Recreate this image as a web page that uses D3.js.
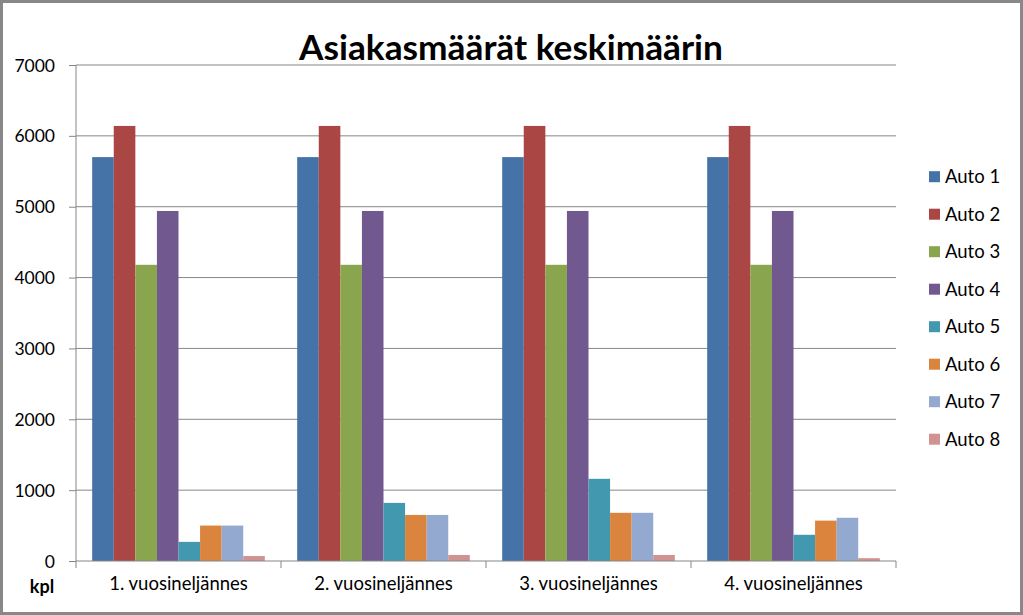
<!DOCTYPE html>
<html>
<head>
<meta charset="utf-8">
<script src="https://cdn.jsdelivr.net/npm/d3@7"></script>
<style>
  body { margin: 0; background: #fff; }
  text { font-family: Lato, "Open Sans", sans-serif; fill: #000; }
</style>
</head>
<body>
<div class="chart"></div>
<script>
const quarters = ['1. vuosineljännes', '2. vuosineljännes', '3. vuosineljännes', '4. vuosineljännes'];
const series = ['Auto 1', 'Auto 2', 'Auto 3', 'Auto 4', 'Auto 5', 'Auto 6', 'Auto 7', 'Auto 8'];
const auto1 = [5700, 5700, 5700, 5700];
const auto2 = [6140, 6140, 6140, 6140];
const auto3 = [4180, 4180, 4180, 4180];
const auto4 = [4940, 4940, 4940, 4940];
const auto5 = [270, 820, 1160, 370];
const auto6 = [500, 650, 680, 570];
const auto7 = [500, 650, 680, 610];
const auto8 = [70, 85, 85, 40];
const yTicks = [0, 1000, 2000, 3000, 4000, 5000, 6000, 7000];
const colors = ['#4572A7', '#AA4643', '#89A54E', '#71588F', '#4198AF', '#DB843D', '#93A9CF', '#D19392'];

function drawChart() {
  const w = 1023;
  const h = 615;
  const plot = { left: 76, right: 896, top: 65, bottom: 561 };
  const values = [auto1, auto2, auto3, auto4, auto5, auto6, auto7, auto8];

  const svg = d3.select('.chart')
    .append('svg')
    .attr('width', w)
    .attr('height', h);

  svg.append('rect')
    .attr('x', 1.5).attr('y', 1.5)
    .attr('width', w - 3).attr('height', h - 3)
    .attr('fill', '#fff')
    .attr('stroke', '#888')
    .attr('stroke-width', 3);

  const x0 = d3.scaleBand()
    .domain(quarters)
    .range([plot.left, plot.right]);
  const x1 = d3.scaleBand()
    .domain(series)
    .range([0, x0.bandwidth()])
    .paddingOuter(0.75);
  const y = d3.scaleLinear()
    .domain([0, 7000])
    .range([plot.bottom, plot.top]);

  // gridlines + y axis
  const yAxis = svg.append('g')
    .attr('class', 'y-axis')
    .attr('transform', `translate(${plot.left}, 0)`)
    .call(d3.axisLeft(y).tickValues(yTicks).tickFormat(d3.format('d')).tickSize(7).tickPadding(14));
  yAxis.select('.domain').remove();
  yAxis.selectAll('.tick line').attr('stroke', '#868686');
  yAxis.selectAll('.tick text').attr('font-size', 17.5).attr('dy', '0.35em');

  svg.append('g')
    .attr('class', 'grid')
    .selectAll('line')
    .data(yTicks.filter((d) => d > 0))
    .join('line')
    .attr('x1', plot.left)
    .attr('x2', plot.right)
    .attr('y1', (d) => y(d))
    .attr('y2', (d) => y(d))
    .attr('stroke', '#868686');

  svg.append('line')
    .attr('x1', plot.left).attr('x2', plot.left)
    .attr('y1', plot.top).attr('y2', plot.bottom)
    .attr('stroke', '#868686');

  // bars
  const rows = quarters.map((q, i) => series.map((s, j) => ({ q, s, v: values[j][i], c: colors[j] })));
  svg.append('g')
    .selectAll('g')
    .data(rows)
    .join('g')
    .attr('transform', (d) => `translate(${x0(d[0].q)}, 0)`)
    .selectAll('rect')
    .data((d) => d)
    .join('rect')
    .attr('x', (d) => x1(d.s))
    .attr('width', x1.bandwidth())
    .attr('y', (d) => y(d.v))
    .attr('height', (d) => y(0) - y(d.v))
    .attr('fill', (d) => d.c);

  // x axis
  const xAxis = svg.append('g')
    .attr('class', 'x-axis')
    .attr('transform', `translate(0, ${plot.bottom})`)
    .call(d3.axisBottom(x0).tickSize(0).tickPadding(16));
  xAxis.select('.domain').remove();
  xAxis.selectAll('.tick text').attr('font-size', 18.5);

  svg.append('line')
    .attr('x1', plot.left).attr('x2', plot.right)
    .attr('y1', plot.bottom).attr('y2', plot.bottom)
    .attr('stroke', '#868686');
  svg.append('g')
    .selectAll('line')
    .data(quarters.concat(['end']))
    .join('line')
    .attr('x1', (d, i) => plot.left + i * x0.step())
    .attr('x2', (d, i) => plot.left + i * x0.step())
    .attr('y1', plot.bottom)
    .attr('y2', plot.bottom + 7)
    .attr('stroke', '#868686');

  svg.append('text')
    .attr('x', 42)
    .attr('y', 593)
    .attr('text-anchor', 'middle')
    .attr('font-size', 18)
    .attr('font-weight', 'bold')
    .text('kpl');

  // title
  const title = svg.append('text')
    .attr('x', 511)
    .attr('y', 60)
    .attr('text-anchor', 'middle')
    .attr('font-weight', 'bold')
    .attr('font-size', 36)
    .text('Asiakasmäärät keskimäärin');
  const tw = title.node().getComputedTextLength();
  title.attr('font-size', 36 * 424 / tw);

  // legend
  const legend = svg.append('g')
    .selectAll('g')
    .data(series)
    .join('g')
    .attr('transform', (d, i) => `translate(929, ${176.7 + i * 37.5})`);
  legend.append('rect')
    .attr('x', 0).attr('y', -5.5)
    .attr('width', 11).attr('height', 11)
    .attr('fill', (d, i) => colors[i]);
  legend.append('text')
    .attr('x', 16)
    .attr('dy', '0.35em')
    .attr('font-size', 18.5)
    .text((d) => d);
}

drawChart();
</script>
</body>
</html>
